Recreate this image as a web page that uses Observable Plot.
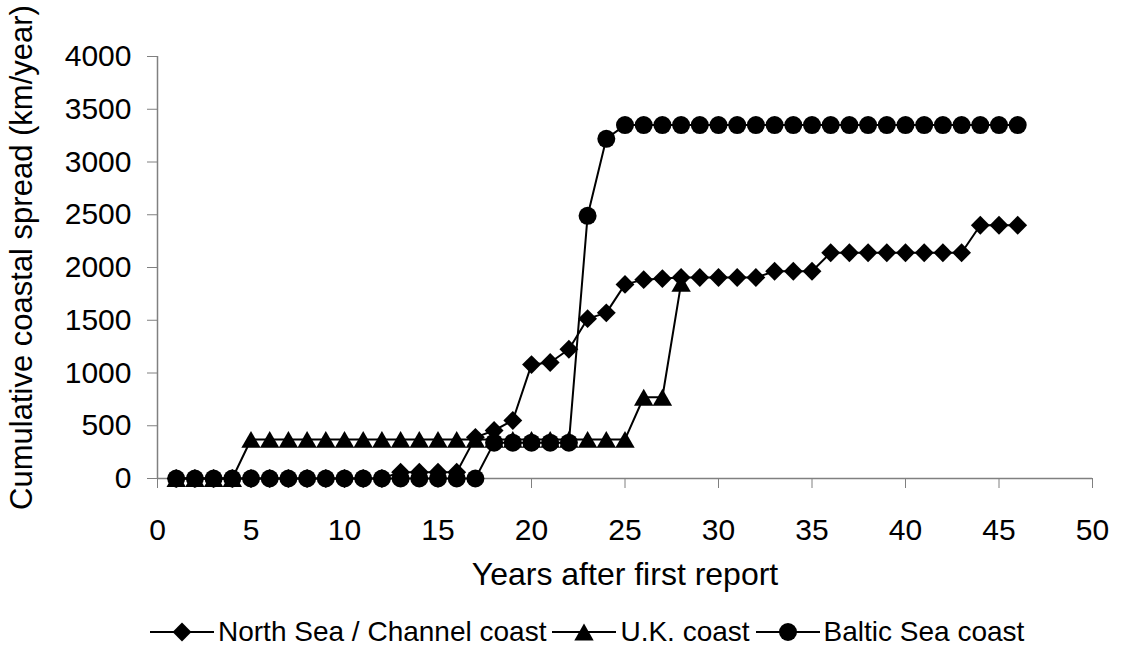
<!DOCTYPE html>
<html>
<head>
<meta charset="utf-8">
<script src="https://cdn.jsdelivr.net/npm/d3@7"></script>
<script src="https://cdn.jsdelivr.net/npm/@observablehq/plot@0.6"></script>
<style>
  html, body { margin: 0; padding: 0; background: #fff; }
  body { width: 1123px; height: 655px; position: relative; overflow: hidden;
         font-family: "Liberation Sans", Arial, sans-serif; }
  #chart { position: absolute; left: 0; top: 0; }
  #legend { position: absolute; left: 150px; top: 614px; height: 36px;
            display: flex; align-items: center; font-size: 28px; color: #000; white-space: nowrap; }
  #legend .item { display: flex; align-items: center; margin-right: 6px; }
  #legend svg { display: block; margin-right: 4px; }
</style>
</head>
<body>
<div id="chart"></div>
<div id="legend"></div>
<script>
// ---- data ----
const years = [1,2,3,4,5,6,7,8,9,10,11,12,13,14,15,16,17,18,19,20,21,22,23,24,25,26,27,28,29,30,31,32,33,34,35,36,37,38,39,40,41,42,43,44,45,46];
const ukYears = [1,2,3,4,5,6,7,8,9,10,11,12,13,14,15,16,17,18,19,20,21,22,23,24,25,26,27,28];
const northSea = [0,0,0,0,0,0,0,0,0,0,0,0,60,60,60,60,390,455,550,1080,1100,1225,1515,1570,1840,1885,1895,1905,1905,1905,1905,1905,1965,1965,1965,2140,2140,2140,2140,2140,2140,2140,2140,2400,2400,2400];
const ukCoast = [0,0,0,0,370,370,370,370,370,370,370,370,370,370,370,370,370,370,370,370,370,370,370,370,370,770,770,1850];
const baltic = [0,0,0,0,0,0,0,0,0,0,0,0,0,0,0,0,0,340,340,340,340,340,2490,3220,3350,3350,3350,3350,3350,3350,3350,3350,3350,3350,3350,3350,3350,3350,3350,3350,3350,3350,3350,3350,3350,3350];
const seriesNames = ["North Sea / Channel coast", "U.K. coast", "Baltic Sea coast"];
const xTicks = [0,5,10,15,20,25,30,35,40,45,50];
const yTicks = [0,500,1000,1500,2000,2500,3000,3500,4000];
const xTitle = "Years after first report";
const yTitle = "Cumulative coastal spread (km/year)";

// ---- build tables ----
function table(name, xs, vs) { return vs.map((v, i) => ({series: name, year: xs[i], value: v})); }
const nsData = table(seriesNames[0], years, northSea);
const ukData = table(seriesNames[1], ukYears, ukCoast);
const blData = table(seriesNames[2], years, baltic);

const styles = [
  {symbol: "diamond2", r: 8.5, dy: 0},
  {symbol: "triangle", r: 7.2, dy: 2.8},
  {symbol: "circle", r: 9, dy: 0}
];
const datasets = [nsData, ukData, blData];

const seriesMarks = datasets.flatMap((d, i) => [
  Plot.line(d, {x: "year", y: "value", stroke: "#000", strokeWidth: 2}),
  Plot.dot(d, {x: "year", y: "value", symbol: styles[i].symbol, r: styles[i].r, fill: "#000", stroke: "none", dy: styles[i].dy})
]);

const chart = Plot.plot({
  width: 1123,
  height: 610,
  marginLeft: 157,
  marginRight: 31,
  marginTop: 56,
  marginBottom: 132,
  style: {fontFamily: "'Liberation Sans', Arial, sans-serif", fontSize: "30px", color: "#000", background: "#fff"},
  x: {domain: [0, 50]},
  y: {domain: [0, 4000]},
  marks: [
    Plot.axisX(xTicks, {tickSize: 10, tickPadding: 30, stroke: "#808080", fill: "#000", label: null, fontSize: 30}),
    Plot.axisY(yTicks, {tickSize: 10, tickPadding: 16, tickFormat: d => String(d), stroke: "#808080", fill: "#000", label: null, fontSize: 30}),
    Plot.ruleX([0], {stroke: "#808080", strokeWidth: 1.5}),
    Plot.ruleY([0], {stroke: "#808080", strokeWidth: 1.5}),
    ...seriesMarks,
    Plot.text([xTitle], {frameAnchor: "bottom", dy: 106, fontSize: 32, fill: "#000"}),
    Plot.text([yTitle], {frameAnchor: "left", textAnchor: "middle", dx: -135, dy: -10, rotate: -90, fontSize: 31, fill: "#000"})
  ]
});
document.getElementById("chart").appendChild(chart);

// ---- legend ----
const legend = d3.select("#legend");
seriesNames.forEach((name, i) => {
  const item = legend.append("div").attr("class", "item");
  const svg = item.append("svg").attr("width", 64).attr("height", 24);
  svg.append("line").attr("x1", 0).attr("x2", 64).attr("y1", 12).attr("y2", 12)
    .attr("stroke", "#000").attr("stroke-width", 2);
  const sym = {diamond2: d3.symbolDiamond2, triangle: d3.symbolTriangle, circle: d3.symbolCircle}[styles[i].symbol];
  svg.append("path").attr("d", d3.symbol(sym, Math.PI * styles[i].r * styles[i].r)())
    .attr("transform", `translate(32,${12 + styles[i].dy})`).attr("fill", "#000");
  item.append("span").text(name);
});
</script>
</body>
</html>
